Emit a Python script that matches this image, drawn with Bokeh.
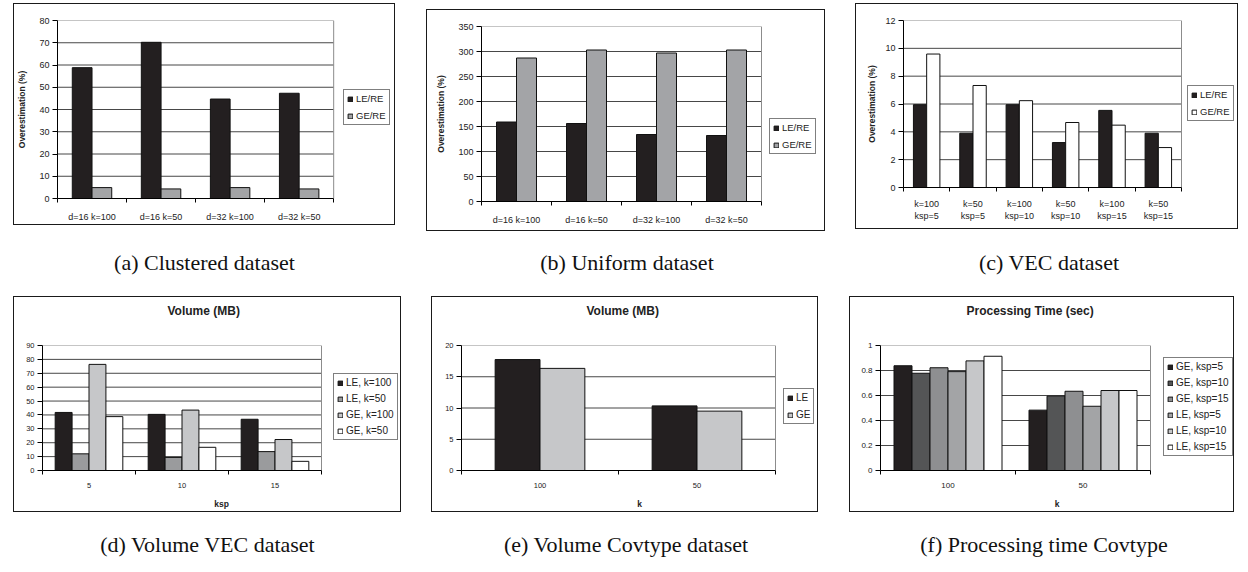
from bokeh.plotting import figure
from bokeh.models import Range1d, FixedTicker, Legend, LegendItem, Div, Spacer, Title
from bokeh.layouts import row, column
from bokeh.embed import file_html
from bokeh.resources import INLINE

FONT = "Liberation Sans"
SERIF = "Liberation Serif"
BLACK = "#231f20"

# ---------------- data ----------------
# (a) Clustered dataset
a_cats = ["d=16 k=100", "d=16 k=50", "d=32 k=100", "d=32 k=50"]
a_names = ["LE/RE", "GE/RE"]
a_le = [58.8, 70.2, 44.7, 47.3]
a_ge = [4.9, 4.3, 4.9, 4.3]
a_yticks = [0, 10, 20, 30, 40, 50, 60, 70, 80]

# (b) Uniform dataset
b_cats = ["d=16 k=100", "d=16 k=50", "d=32 k=100", "d=32 k=50"]
b_names = ["LE/RE", "GE/RE"]
b_le = [159, 156, 134, 132]
b_ge = [287, 303, 297, 303]
b_yticks = [0, 50, 100, 150, 200, 250, 300, 350]

# (c) VEC dataset
c_cats = ["k=100\nksp=5", "k=50\nksp=5", "k=100\nksp=10", "k=50\nksp=10", "k=100\nksp=15", "k=50\nksp=15"]
c_names = ["LE/RE", "GE/RE"]
c_le = [5.95, 3.9, 5.95, 3.23, 5.54, 3.9]
c_ge = [9.59, 7.33, 6.24, 4.67, 4.48, 2.87]
c_yticks = [0, 2, 4, 6, 8, 10, 12]

# (d) Volume VEC dataset
d_cats = ["5", "10", "15"]
d_names = ["LE, k=100", "LE, k=50", "GE, k=100", "GE, k=50"]
d_le100 = [41.8, 40.4, 36.9]
d_le50 = [12.0, 9.4, 13.6]
d_ge100 = [76.4, 43.5, 22.3]
d_ge50 = [38.8, 16.7, 6.6]
d_yticks = [0, 10, 20, 30, 40, 50, 60, 70, 80, 90]

# (e) Volume Covtype dataset
e_cats = ["100", "50"]
e_names = ["LE", "GE"]
e_le = [17.75, 10.34]
e_ge = [16.34, 9.5]
e_yticks = [0, 5, 10, 15, 20]

# (f) Processing time Covtype
f_cats = ["100", "50"]
f_names = ["GE, ksp=5", "GE, ksp=10", "GE, ksp=15", "LE, ksp=5", "LE, ksp=10", "LE, ksp=15"]
f_ge5 = [0.838, 0.483]
f_ge10 = [0.778, 0.595]
f_ge15 = [0.822, 0.634]
f_le5 = [0.791, 0.514]
f_le10 = [0.877, 0.640]
f_le15 = [0.914, 0.640]
f_yticks = [0, 0.2, 0.4, 0.6, 0.8, 1]

captions_top = ["(a) Clustered dataset", "(b) Uniform dataset", "(c) VEC dataset"]
captions_bottom = ["(d) Volume VEC dataset", "(e) Volume Covtype dataset", "(f) Processing time Covtype"]


def make_panel(cats, names, values, colors, yticks, W, H, lb, tb, bb, cat_px, leg_loc,
               ylabel=None, title=None, title_offset=0, xlabel=None,
               tick_size="9px", legend_size="9.5px", x_standoff=9, line_height=1.2,
               ylabel_standoff=9, xlabel_standoff=8, leg_spacing=6):
    nc = len(cats)
    ns = len(names)
    frame_px = W - lb
    x_end = nc * frame_px / float(cat_px)   # plot area (categories) + legend area to its right
    ymin, ymax = yticks[0], yticks[-1]
    p = figure(width=W, height=H, x_range=Range1d(0, x_end), y_range=Range1d(ymin, ymax),
               output_backend="svg", toolbar_location=None,
               min_border_left=lb, min_border_right=0, min_border_top=tb, min_border_bottom=bb)
    p.background_fill_color = "white"
    p.border_fill_color = "white"
    p.outline_line_color = None
    p.xgrid.visible = False
    p.ygrid.visible = False

    # horizontal gridlines across the category area only
    inner = yticks[1:-1]
    p.segment(x0=[0] * len(inner), x1=[nc] * len(inner), y0=inner, y1=inner,
              line_color="#474747", line_width=1)

    bw = 1.0 / (ns + 1.5)
    items = []
    for j, (name, vals, col) in enumerate(zip(names, values, colors)):
        xs = [i + 0.5 + (j - (ns - 1) / 2.0) * bw for i in range(nc)]
        r = p.vbar(x=xs, top=vals, width=bw, fill_color=col, line_color="#111111", line_width=1)
        items.append(LegendItem(label=name, renderers=[r]))

    # plot-area border (top and right)
    p.line(x=[0, nc, nc], y=[ymax, ymax, ymin], line_color="#8c8c8c", line_width=1)

    xa = p.xaxis[0]
    xa.bounds = (0, nc)
    xa.ticker = FixedTicker(ticks=[i + 0.5 for i in range(nc)], minor_ticks=list(range(nc + 1)))
    xa.major_label_overrides = {i + 0.5: c for i, c in enumerate(cats)}
    xa.major_tick_out = 0
    xa.major_tick_in = 0
    xa.minor_tick_out = 4
    xa.minor_tick_in = 0
    xa.minor_tick_line_color = "black"
    xa.axis_line_color = "black"
    xa.major_label_text_font = FONT
    xa.major_label_text_font_size = tick_size
    xa.major_label_text_color = "#222222"
    xa.major_label_standoff = x_standoff
    xa.major_label_text_line_height = line_height
    if xlabel:
        xa.axis_label = xlabel
        xa.axis_label_text_font = FONT
        xa.axis_label_text_font_size = "8.5px"
        xa.axis_label_text_font_style = "bold"
        xa.axis_label_standoff = xlabel_standoff
        xa.axis_label_text_color = "#222222"
        xa.axis_label_text_line_height = 1.0

    ya = p.yaxis[0]
    ya.ticker = FixedTicker(ticks=yticks, minor_ticks=[])
    ya.major_label_overrides = {t: format(t, "g") for t in yticks}
    ya.major_tick_out = 5
    ya.major_tick_in = 0
    ya.major_tick_line_color = "black"
    ya.axis_line_color = "black"
    ya.major_label_text_font = FONT
    ya.major_label_text_font_size = tick_size
    ya.major_label_text_color = "#222222"
    ya.major_label_standoff = 3
    if ylabel:
        ya.axis_label = ylabel
        ya.axis_label_text_font = FONT
        ya.axis_label_text_font_size = "8.5px"
        ya.axis_label_text_font_style = "bold"
        ya.axis_label_standoff = ylabel_standoff
        ya.axis_label_text_color = "#222222"

    if title:
        # an empty spacer title keeps the real title well above the plot area
        p.add_layout(Title(text=" ", text_font_size="20px", standoff=0), "above")
        p.add_layout(Title(text=title, align="left", offset=title_offset, text_font=FONT,
                           text_font_size="12px", text_font_style="bold", text_color="#222222",
                           standoff=8), "above")

    leg = Legend(items=items, location=leg_loc,
                 label_text_font=FONT, label_text_font_size=legend_size, label_text_color="#222222",
                 glyph_width=6, glyph_height=6, label_height=9, label_width=10, label_standoff=3,
                 spacing=leg_spacing, padding=3, margin=0,
                 border_line_color="black", border_line_width=1,
                 background_fill_color="white", background_fill_alpha=1)
    p.add_layout(leg)
    return p


def boxed(p):
    return column(p, styles={"border": "1.5px solid #1a1a1a"})


def sp(w, h=1):
    return Spacer(width=w, height=h, margin=0)


pa = make_panel(a_cats, a_names, [a_le, a_ge], [BLACK, "#a3a4a6"], a_yticks,
                380, 220, 42, 16, 24, 277, (286, 73), ylabel="Overestimation (%)")
pb = make_panel(b_cats, b_names, [b_le, b_ge], [BLACK, "#a3a4a7"], b_yticks,
                397, 220, 54, 16, 29, 280, (288, 47), ylabel="Overestimation (%)")
pc = make_panel(c_cats, c_names, [c_le, c_ge], [BLACK, "white"], c_yticks,
                381, 224, 47, 16, 41, 278, (284, 66), ylabel="Overestimation (%)",
                line_height=1.26, x_standoff=7, ylabel_standoff=5)
pd = make_panel(d_cats, d_names, [d_le100, d_le50, d_ge100, d_ge50],
                [BLACK, "#9a9b9d", "#c6c7c9", "white"], d_yticks,
                386, 214, 28, 48, 38, 279, (291, 30), title="Volume (MB)", title_offset=125, xlabel="ksp",
                tick_size="7.5px", legend_size="10px", x_standoff=8, line_height=1.0, xlabel_standoff=8,
                leg_spacing=5)
pe = make_panel(e_cats, e_names, [e_le, e_ge], [BLACK, "#c6c7c9"], e_yticks,
                385, 214, 29, 48, 38, 314, (322, 46), title="Volume (MB)", title_offset=125, xlabel="k",
                tick_size="7.5px", legend_size="10px", x_standoff=8, line_height=1.0, xlabel_standoff=8)
pf = make_panel(f_cats, f_names, [f_ge5, f_ge10, f_ge15, f_le5, f_le10, f_le15],
                [BLACK, "#545556", "#8e8f91", "#a3a4a6", "#c6c7c9", "white"], f_yticks,
                383, 214, 30, 48, 38, 270, (283, 14), title="Processing Time (sec)", title_offset=86, xlabel="k",
                tick_size="8px", legend_size="10px", x_standoff=8, line_height=1.0, xlabel_standoff=8,
                leg_spacing=5)


def caption(text, w, h, pad):
    return Div(text='<div style="padding-top:%dpx">%s</div>' % (pad, text), width=w, height=h, margin=0,
               styles={"font-family": SERIF, "font-size": "22px", "text-align": "center", "color": "#111111"})


top_row = row(sp(13), boxed(pa), sp(31), column(sp(1, 6), boxed(pb)), sp(30), boxed(pc))
cap_top = row(sp(13), caption(captions_top[0], 383, 65, 16), sp(31),
              caption(captions_top[1], 400, 65, 16), sp(30),
              caption(captions_top[2], 384, 65, 16))
bot_row = row(sp(13), boxed(pd), sp(30), boxed(pe), sp(31), boxed(pf))
cap_bot = row(sp(13), caption(captions_bottom[0], 389, 54, 17), sp(30),
              caption(captions_bottom[1], 388, 54, 17), sp(31),
              caption(captions_bottom[2], 386, 54, 17))

layout = column(sp(1, 3), top_row, cap_top, bot_row, cap_bot)

open("out.html", "w").write(file_html(layout, INLINE))
